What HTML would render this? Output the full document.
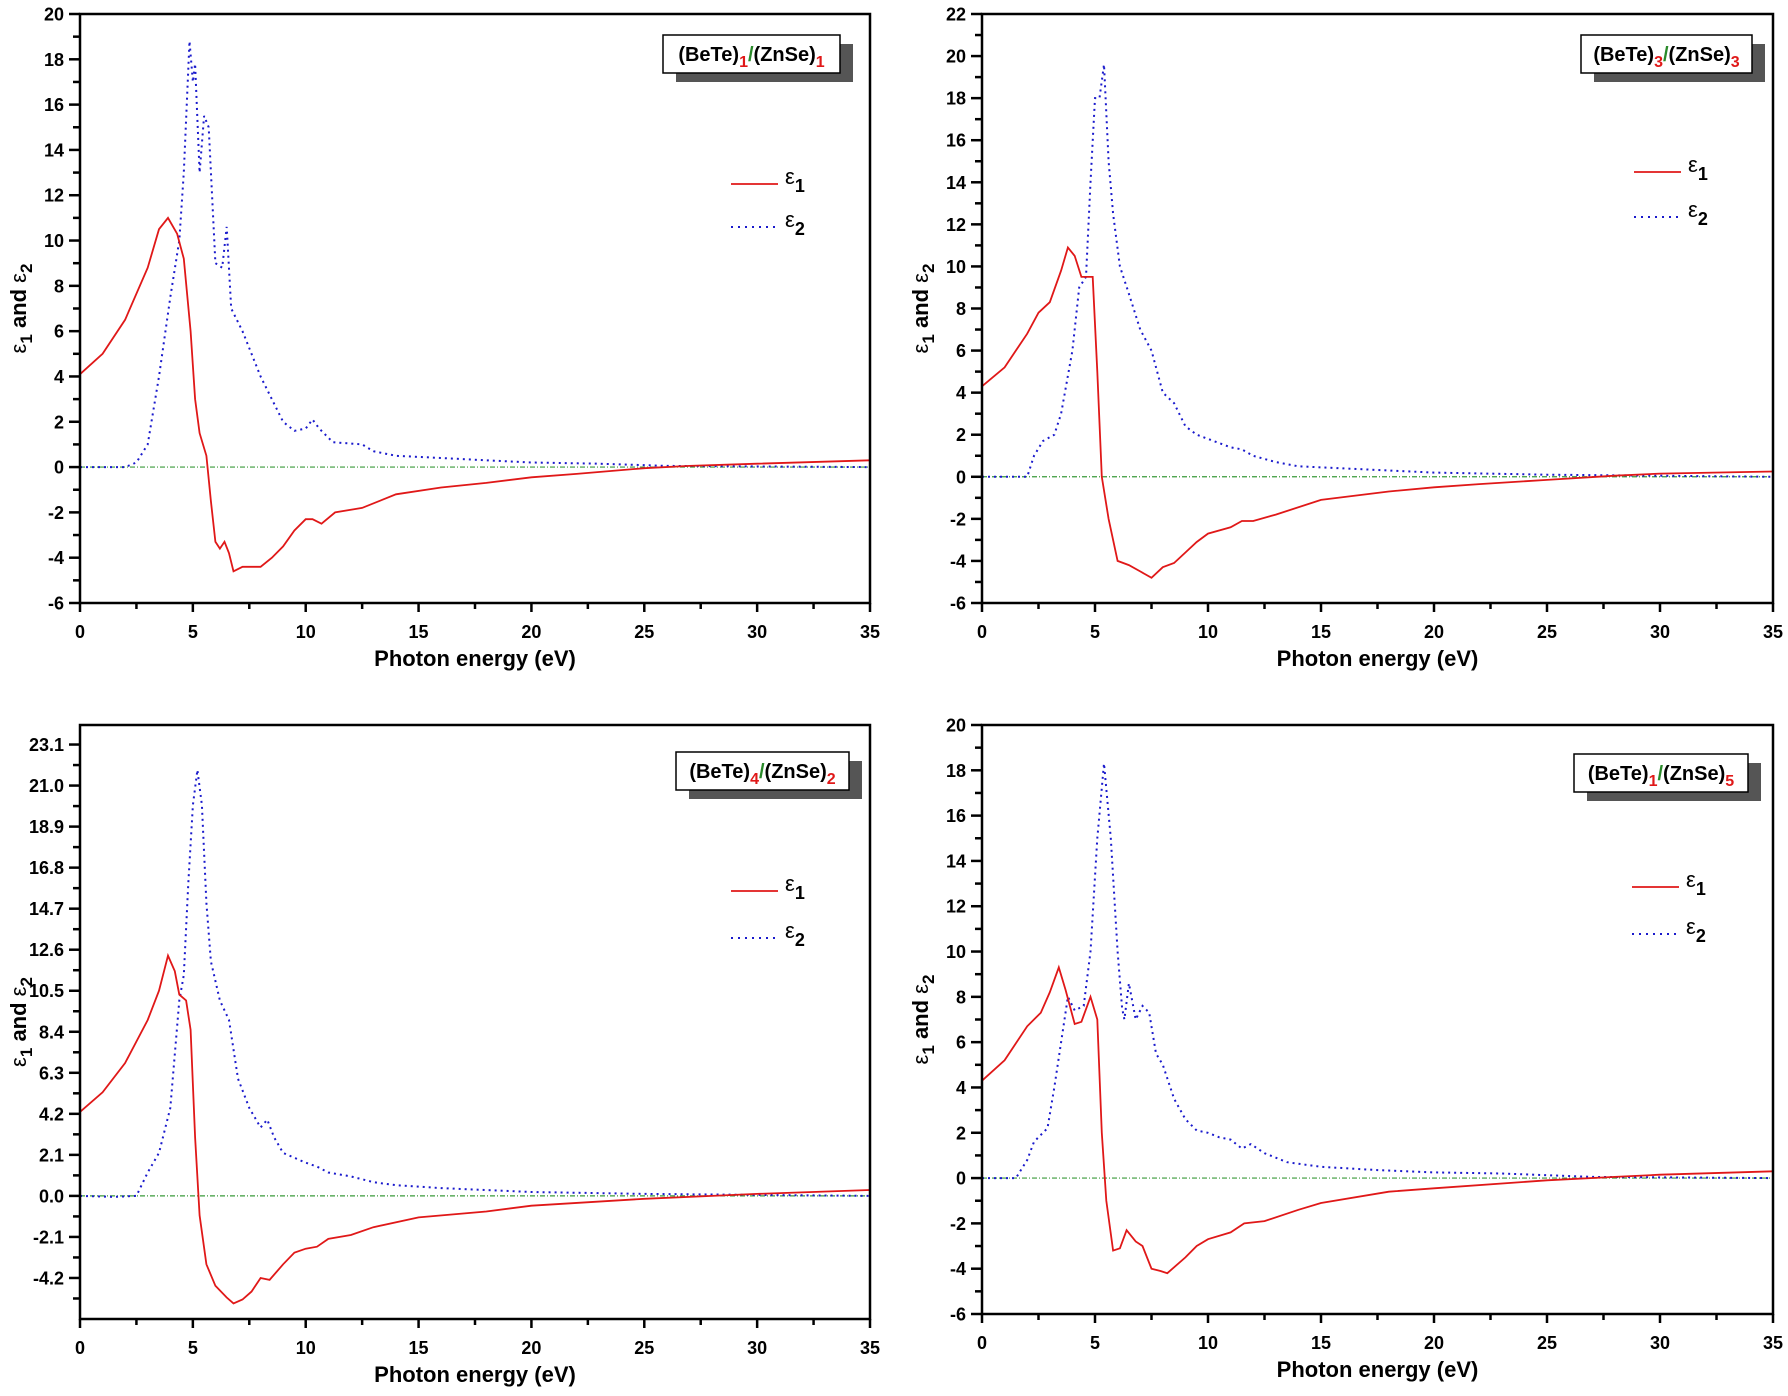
<!DOCTYPE html>
<html><head><meta charset="utf-8"><style>
html,body{margin:0;padding:0;background:#fff;}
svg{display:block;font-family:"Liberation Sans",Arial,sans-serif;}
</style></head><body>
<svg id="chart" width="1788" height="1396" viewBox="0 0 1788 1396" xmlns="http://www.w3.org/2000/svg"></svg>
<script>
// ---- data ----
const xTicks=[0,5,10,15,20,25,30,35];
const tlTicks=[-6,-4,-2,0,2,4,6,8,10,12,14,16,18,20];
const trTicks=[-6,-4,-2,0,2,4,6,8,10,12,14,16,18,20,22];
const blTicks=[-4.2,-2.1,0.0,2.1,4.2,6.3,8.4,10.5,12.6,14.7,16.8,18.9,21.0,23.1];
const brTicks=[-6,-4,-2,0,2,4,6,8,10,12,14,16,18,20];

const tlE1x=[0,1,2,3,3.5,3.9,4.3,4.6,4.9,5.1,5.3,5.6,5.8,6,6.2,6.4,6.6,6.8,7.2,7.6,8,8.5,9,9.5,10,10.3,10.7,11.3,12.5,14,16,18,20,22,25,27,30,35];
const tlE1y=[4.1,5,6.5,8.8,10.5,11,10.3,9.2,6,3,1.5,0.5,-1.5,-3.3,-3.6,-3.3,-3.8,-4.6,-4.4,-4.4,-4.4,-4.0,-3.5,-2.8,-2.3,-2.3,-2.5,-2.0,-1.8,-1.2,-0.9,-0.7,-0.45,-0.3,-0.05,0.05,0.15,0.3];
const tlE2x=[0,2,2.5,3,3.5,4,4.4,4.6,4.85,5.0,5.1,5.3,5.5,5.7,6.0,6.3,6.5,6.7,7.2,8,9,9.5,10,10.3,10.6,11.2,12.5,13,14,16,18,20,23,26,35];
const tlE2y=[0,0,0.2,1,4,7.5,10,13,18.8,17,17.8,13,15.5,15,9,8.8,10.6,7,6,4,2,1.6,1.7,2.1,1.7,1.1,1.0,0.7,0.5,0.4,0.3,0.2,0.15,0.05,0.0];

const trE1x=[0,1,2,2.5,3,3.5,3.8,4.1,4.4,4.9,5.1,5.3,5.6,6,6.5,7,7.5,8,8.5,9,9.5,10,11,11.5,12,13,15,18,20,22,25,28,30,35];
const trE1y=[4.3,5.2,6.8,7.8,8.3,9.8,10.9,10.5,9.5,9.5,5,0,-2,-4,-4.2,-4.5,-4.8,-4.3,-4.1,-3.6,-3.1,-2.7,-2.4,-2.1,-2.1,-1.8,-1.1,-0.7,-0.5,-0.35,-0.15,0.05,0.15,0.25];
const trE2x=[0,2,2.3,2.7,3.2,3.5,4,4.3,4.6,4.8,5.0,5.2,5.4,5.6,5.8,6.1,6.5,7,7.5,8,8.5,9,9.5,10,11,11.5,12,13,14,16,20,25,35];
const trE2y=[0,0,1,1.7,2.0,3,6,9,9.5,14,18,18,19.6,15,12.5,10,8.7,7,6,4,3.5,2.4,2,1.8,1.4,1.3,1.0,0.7,0.5,0.4,0.2,0.1,0.0];

const blE1x=[0,1,2,3,3.5,3.9,4.2,4.4,4.7,4.9,5.1,5.3,5.6,6,6.5,6.8,7.2,7.6,8,8.4,9,9.5,10,10.5,11,12,13,15,18,20,25,28,30,35];
const blE1y=[4.3,5.3,6.8,9,10.5,12.3,11.5,10.3,10,8.5,3,-1,-3.5,-4.6,-5.2,-5.5,-5.3,-4.9,-4.2,-4.3,-3.5,-2.9,-2.7,-2.6,-2.2,-2.0,-1.6,-1.1,-0.8,-0.5,-0.15,0.0,0.1,0.3];
const blE2x=[0,1.5,2.5,3,3.5,4,4.4,4.6,4.8,5.0,5.2,5.4,5.6,5.8,6.2,6.6,7,7.5,8,8.3,8.6,9,10,10.5,11,12,13,14,16,20,25,35];
const blE2y=[0,-0.05,0,1.2,2.2,4.5,10,11.3,16,20,21.8,20,15,12,10,9,6,4.5,3.5,3.9,3,2.2,1.7,1.5,1.2,1.0,0.7,0.55,0.4,0.2,0.1,0.0];

const brE1x=[0,1,2,2.6,3,3.4,3.7,4.1,4.4,4.8,5.1,5.3,5.5,5.8,6.1,6.4,6.8,7.1,7.5,7.9,8.2,9,9.5,10,11,11.6,12.5,14,15,18,20,25,28,30,35];
const brE1y=[4.3,5.2,6.7,7.3,8.2,9.3,8.3,6.8,6.9,8.0,7,2,-1,-3.2,-3.1,-2.3,-2.8,-3.0,-4.0,-4.1,-4.2,-3.5,-3.0,-2.7,-2.4,-2.0,-1.9,-1.4,-1.1,-0.6,-0.45,-0.1,0.05,0.15,0.3];
const brE2x=[0,1.5,2,2.3,2.9,3.2,3.5,3.8,4.1,4.5,4.8,5.1,5.4,5.7,6,6.2,6.3,6.5,6.8,7.1,7.4,7.7,8,8.5,9,9.5,10,10.5,11,11.5,11.9,12.5,13.5,15,17.5,20,23,27,35];
const brE2y=[0,0,0.8,1.6,2.2,4,6,8,7.4,7.6,10,15,18.3,15,10,7.5,7,8.6,7,7.6,7.3,5.5,5,3.5,2.6,2.1,2,1.8,1.7,1.3,1.5,1.1,0.7,0.5,0.35,0.25,0.2,0.05,0.0];

const panels=[
 {id:'top-left',L:80,R:870,T:14,B:603,ymin:-6,ymax:20,ticks:tlTicks,e1x:tlE1x,e1y:tlE1y,e2x:tlE2x,e2y:tlE2y,n1:'1',n2:'1',dec:0,box:[663,35,177,38],leg:[731,184,227]},
 {id:'top-right',L:982,R:1773,T:14,B:603,ymin:-6,ymax:22,ticks:trTicks,e1x:trE1x,e1y:trE1y,e2x:trE2x,e2y:trE2y,n1:'3',n2:'3',dec:0,box:[1581,35,171,38],leg:[1634,172,217]},
 {id:'bottom-left',L:80,R:870,T:725,B:1319,ymin:-6.3,ymax:24.1,ticks:blTicks,e1x:blE1x,e1y:blE1y,e2x:blE2x,e2y:blE2y,n1:'4',n2:'2',dec:1,box:[676,752,173,38],leg:[731,891,938]},
 {id:'bottom-right',L:982,R:1773,T:725,B:1314,ymin:-6,ymax:20,ticks:brTicks,e1x:brE1x,e1y:brE1y,e2x:brE2x,e2y:brE2y,n1:'1',n2:'5',dec:0,box:[1574,754,174,38],leg:[1632,887,934]}
];
const NS='http://www.w3.org/2000/svg';
const svg=document.getElementById('chart');
function el(tag,attrs,parent){const e=document.createElementNS(NS,tag);for(const k in attrs)e.setAttribute(k,attrs[k]);(parent||svg).appendChild(e);return e;}

panels.forEach(p=>{
 const g=el('g',{});
 
 
 const sx=v=>p.L+(v-0)/35*(p.R-p.L);
 const sy=v=>p.B-(v-p.ymin)/(p.ymax-p.ymin)*(p.B-p.T);
 const z=el('line',{x1:p.L,x2:p.R,y1:sy(0),y2:sy(0),stroke:'#3a9a3a','stroke-width':1.2,'stroke-dasharray':'5,2,1,2'},g);
 
 
 const mk=(xs,ys)=>xs.map((x,i)=>(i?'L':'M')+sx(x).toFixed(1)+','+sy(ys[i]).toFixed(1)).join(' ');
 const s2=el('path',{d:mk(p.e2x,p.e2y),fill:'none',stroke:'#1a1acc','stroke-width':2,'stroke-dasharray':'2,4'},g);
 
 
 const s1=el('path',{d:mk(p.e1x,p.e1y),fill:'none',stroke:'#e01818','stroke-width':1.8},g);
 
 
 const fr=el('rect',{x:p.L,y:p.T,width:p.R-p.L,height:p.B-p.T,fill:'none',stroke:'#000','stroke-width':2.5},g);
 
 
 const step=p.ticks[1]-p.ticks[0];
 p.ticks.forEach((t,i)=>{
  const y=sy(t);
  el('line',{x1:p.L-11,x2:p.L,y1:y,y2:y,stroke:'#000','stroke-width':2.5},g);
  if(t+step/2<p.ymax)el('line',{x1:p.L-7,x2:p.L,y1:sy(t+step/2),y2:sy(t+step/2),stroke:'#000','stroke-width':2.5},g);
  if(i==0&&t-step/2>p.ymin)el('line',{x1:p.L-7,x2:p.L,y1:sy(t-step/2),y2:sy(t-step/2),stroke:'#000','stroke-width':2.5},g);
  const tx=el('text',{x:p.L-16,y:y+6.5,'text-anchor':'end','font-size':18,'font-weight':'bold'},g);
  tx.textContent=t.toFixed(p.dec);
  
  
 });
 xTicks.forEach(t=>{
  const x=sx(t);
  el('line',{x1:x,x2:x,y1:p.B,y2:p.B+9,stroke:'#000','stroke-width':2.5},g);
  if(t<35)el('line',{x1:sx(t+2.5),x2:sx(t+2.5),y1:p.B,y2:p.B+6,stroke:'#000','stroke-width':2.5},g);
  const tx=el('text',{x:x,y:p.B+35,'text-anchor':'middle','font-size':18,'font-weight':'bold'},g);
  tx.textContent=t;
  
  
 });
 const xt=el('text',{x:(p.L+p.R)/2,y:p.B+63,'text-anchor':'middle','font-size':22,'font-weight':'bold'},g);
 xt.textContent='Photon energy (eV)';
 
 
 const cy=(p.T+p.B)/2;
 const yt=el('text',{x:0,y:0,'text-anchor':'middle','font-size':22,'font-weight':'bold',transform:`translate(${p.L-54},${cy}) rotate(-90)`},g);
 yt.innerHTML='<tspan font-weight="normal">ε</tspan><tspan dy="6" font-size="17">1</tspan><tspan dy="-6"> and </tspan><tspan font-weight="normal">ε</tspan><tspan dy="6" font-size="17">2</tspan>';
 
 
 const [bx,by,bw,bh]=p.box;
 const sh=el('rect',{x:bx+13,y:by+9,width:bw,height:bh,fill:'#555'},g);
 
 
 const br=el('rect',{x:bx,y:by,width:bw,height:bh,fill:'#fff',stroke:'#000','stroke-width':1.5},g);
 
 
 const lt=el('text',{x:bx+bw/2,y:by+26,'text-anchor':'middle','font-size':20,'font-weight':'bold'},g);
 lt.innerHTML=`(BeTe)<tspan dy="6" font-size="16" fill="#e01818">${p.n1}</tspan><tspan dy="-6" fill="#2a8a2a">/</tspan>(ZnSe)<tspan dy="6" font-size="16" fill="#e01818">${p.n2}</tspan>`;
 
 
 const [lx,l1,l2]=p.leg;
 const lg=el('g',{},g);
 
 
 el('line',{x1:lx,x2:lx+47,y1:l1,y2:l1,stroke:'#e01818','stroke-width':1.8},lg);
 el('line',{x1:lx,x2:lx+47,y1:l2,y2:l2,stroke:'#1a1acc','stroke-width':2,'stroke-dasharray':'2,5'},lg);
 const a=el('text',{x:lx+54,y:l1,'font-size':22},lg);
 a.innerHTML='ε<tspan dy="8" font-size="18" font-weight="bold">1</tspan>';
 
 
 const b=el('text',{x:lx+54,y:l2,'font-size':22},lg);
 b.innerHTML='ε<tspan dy="8" font-size="18" font-weight="bold">2</tspan>';
 
 
});
</script>
</body></html>
